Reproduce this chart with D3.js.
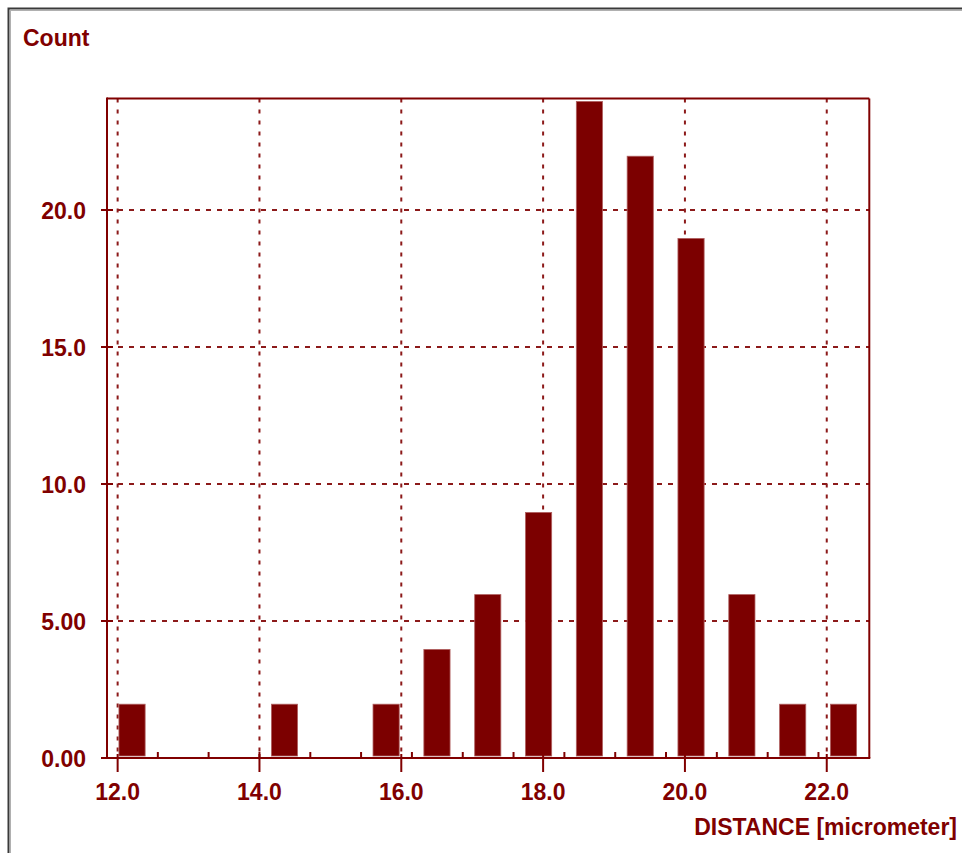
<!DOCTYPE html>
<html>
<head>
<meta charset="utf-8">
<script src="https://cdn.jsdelivr.net/npm/d3@7/dist/d3.min.js"></script>
<style>
  html, body { margin: 0; padding: 0; background: #ffffff; }
  svg { display: block; }
  text { font-family: "Liberation Sans", Arial, sans-serif; font-weight: bold; fill: #800000; }
</style>
</head>
<body>
<svg id="chart" width="962" height="853"></svg>
<script>
// Histogram of distances: bin edges (micrometer) and counts per bin
const binEdges = [11.85, 12.567, 13.283, 14.0, 14.717, 15.433, 16.15, 16.867,
                  17.583, 18.3, 19.017, 19.733, 20.45, 21.167, 21.883, 22.6];
const counts   = [2, 0, 0, 2, 0, 2, 4, 6, 9, 24, 22, 19, 6, 2, 2];

// Axis ticks and labels
const xTicks = [12, 14, 16, 18, 20, 22];
const xTickLabels = ["12.0", "14.0", "16.0", "18.0", "20.0", "22.0"];
const yTicks = [0, 5, 10, 15, 20];
const yTickLabels = ["0.00", "5.00", "10.0", "15.0", "20.0"];

const yTitle = "Count";
const xTitle = "DISTANCE [micrometer]";

const maroon = "#800000";
const gridColor = "#8c1a1a";

const svg = d3.select("#chart");

// Window frame
svg.append("rect")
  .attr("x", 8.5).attr("y", 8.5).attr("width", 1000).attr("height", 1000)
  .attr("fill", "none").attr("stroke", "#3a3a3a").attr("stroke-width", 2);
svg.append("rect")
  .attr("x", 10.5).attr("y", 10.5).attr("width", 1000).attr("height", 1000)
  .attr("fill", "none").attr("stroke", "#b0b0b0").attr("stroke-width", 1);

const plot = { left: 107, right: 869.3, top: 98.5, bottom: 758 };

const x = d3.scaleLinear().domain([binEdges[0], binEdges[binEdges.length - 1]])
  .range([plot.left, plot.right]);
const y = d3.scaleLinear().domain([0, 24.07]).range([plot.bottom, plot.top]);

const bins = counts.map((c, i) => ({ x0: binEdges[i], x1: binEdges[i + 1], count: c }));

// Dashed grid
const grid = svg.append("g")
  .attr("stroke", gridColor).attr("stroke-width", 2).attr("fill", "none");
grid.selectAll("line.v").data(xTicks).join("line")
  .attr("class", "v")
  .attr("x1", d => x(d)).attr("x2", d => x(d))
  .attr("y1", plot.top).attr("y2", plot.bottom)
  .attr("stroke-dasharray", "4,7");
grid.selectAll("line.h").data(yTicks.filter(d => d > 0)).join("line")
  .attr("class", "h")
  .attr("x1", plot.left).attr("x2", plot.right)
  .attr("y1", d => y(d)).attr("y2", d => y(d))
  .attr("stroke-dasharray", "5,6");

// Bars
svg.append("g").selectAll("rect").data(bins.filter(b => b.count > 0)).join("rect")
  .attr("x", b => { const w = x(b.x1) - x(b.x0); return x(b.x0) + w * 0.235; })
  .attr("width", b => (x(b.x1) - x(b.x0)) * 0.515)
  .attr("y", b => y(b.count) + 1)
  .attr("height", b => y(0) - y(b.count) - 3)
  .attr("fill", "#7c0000")
  .attr("stroke", "#b06060").attr("stroke-width", 0.8);

// Plot frame and axes
const frame = svg.append("g").attr("stroke", maroon).attr("stroke-width", 2).attr("fill", "none");
frame.append("line").attr("x1", plot.left).attr("x2", plot.right).attr("y1", plot.top).attr("y2", plot.top);
frame.append("line").attr("x1", plot.right).attr("x2", plot.right).attr("y1", plot.top).attr("y2", plot.bottom);
frame.append("line").attr("x1", plot.left).attr("x2", plot.left).attr("y1", plot.top - 1).attr("y2", plot.bottom);
frame.append("line").attr("x1", plot.left - 6).attr("x2", plot.right + 1).attr("y1", plot.bottom).attr("y2", plot.bottom);

// Minor x ticks at bin edges
frame.selectAll("line.minor").data(binEdges.slice(1, -1)).join("line")
  .attr("class", "minor")
  .attr("x1", d => x(d)).attr("x2", d => x(d))
  .attr("y1", plot.bottom - 6).attr("y2", plot.bottom);

// Major x ticks
frame.selectAll("line.xmajor").data(xTicks).join("line")
  .attr("class", "xmajor")
  .attr("x1", d => x(d)).attr("x2", d => x(d))
  .attr("y1", plot.bottom - 4).attr("y2", plot.bottom + 14);

// Major y ticks
frame.selectAll("line.ymajor").data(yTicks).join("line")
  .attr("class", "ymajor")
  .attr("x1", plot.left - 6).attr("x2", plot.left + 6)
  .attr("y1", d => y(d)).attr("y2", d => y(d));

// Tick labels
svg.append("g").selectAll("text").data(xTicks).join("text")
  .attr("x", d => x(d)).attr("y", 800)
  .attr("text-anchor", "middle").attr("font-size", 23)
  .text((d, i) => xTickLabels[i]);

svg.append("g").selectAll("text").data(yTicks).join("text")
  .attr("x", 86).attr("y", d => y(d) + 8.5)
  .attr("text-anchor", "end").attr("font-size", 23)
  .text((d, i) => yTickLabels[i]);

// Axis titles
svg.append("text").attr("x", 23).attr("y", 46).attr("font-size", 23).text(yTitle);
svg.append("text").attr("x", 957).attr("y", 835).attr("text-anchor", "end")
  .attr("font-size", 23).text(xTitle);
</script>
</body>
</html>
